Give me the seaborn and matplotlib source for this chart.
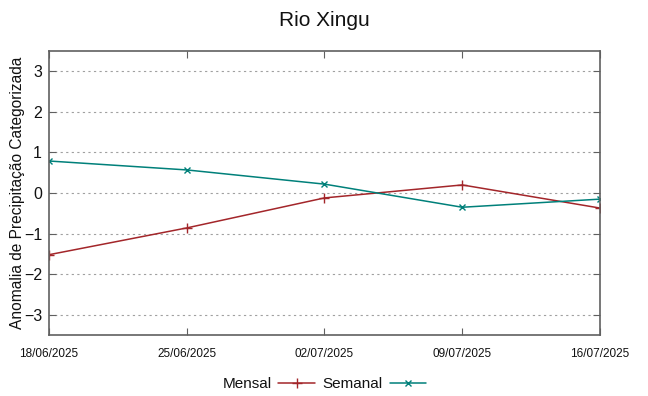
#!/usr/bin/env python3

import numpy as np
import pandas as pd
import seaborn as sns
import matplotlib
matplotlib.use('Agg')
import matplotlib.pyplot as plt
import matplotlib.dates as mdates

datas = ['2025-06-18', '2025-06-25', '2025-07-02', '2025-07-09', '2025-07-16']
mensal = [-1.52, -0.86, -0.12, 0.20, -0.37]
semanal = [0.79, 0.57, 0.22, -0.35, -0.15]
yticks = [-3, -2, -1, 0, 1, 2, 3]

df = pd.DataFrame({
    'data': pd.to_datetime(datas * 2),
    'valor': mensal + semanal,
    'serie': ['Mensal'] * len(datas) + ['Semanal'] * len(datas),
})

sns.set_style('white')
plt.rcParams['font.family'] = ['Liberation Sans', 'DejaVu Sans']
plt.rcParams['text.color'] = '#111111'
plt.rcParams['axes.labelcolor'] = '#111111'
plt.rcParams['xtick.color'] = '#111111'
plt.rcParams['ytick.color'] = '#111111'

fig = plt.figure(figsize=(6.48, 3.96), dpi=100)
ax = fig.add_axes([0.0756, 0.154, 0.8503, 0.717])

cores = {'Mensal': '#a3262a', 'Semanal': '#00807a'}
marcas = {'Mensal': '+', 'Semanal': 'x'}
tamanhos = {'Mensal': 7, 'Semanal': 5}
for nome in ['Mensal', 'Semanal']:
    sub = df[df['serie'] == nome]
    sns.lineplot(data=sub, x='data', y='valor', ax=ax, color=cores[nome],
                 marker=marcas[nome], markersize=tamanhos[nome], markeredgewidth=1,
                 markeredgecolor=cores[nome], linewidth=1.1, label=nome)

ax.set_xlim(pd.Timestamp(datas[0]), pd.Timestamp(datas[-1]))
ax.set_ylim(-3.5, 3.5)
ax.set_yticks(yticks)
ax.set_xticks(pd.to_datetime(datas))
ax.xaxis.set_major_formatter(mdates.DateFormatter('%d/%m/%Y'))
ax.tick_params(axis='y', labelsize=11.5, direction='in', length=5, right=True, left=True,
               pad=5, color='#606060')
ax.tick_params(axis='x', labelsize=8.5, direction='in', length=5, top=True, bottom=True,
               pad=9, color='#606060')
ax.yaxis.grid(True, linestyle=(0, (2, 3)), color='#a0a0a0', linewidth=0.8)
ax.xaxis.grid(False)
for s in ax.spines.values():
    s.set_color('#606060')
    s.set_linewidth(1.2)

ax.set_xlabel('')
ax.set_ylabel('Anomalia de Precipitação Categorizada', fontsize=11.2, labelpad=-1)
fig.suptitle('Rio Xingu', fontsize=15, y=0.972)

ax.legend(loc='upper center', bbox_to_anchor=(0.5, -0.1), ncol=2, frameon=False,
          markerfirst=False, fontsize=11, handlelength=2.4, columnspacing=0.5,
          handletextpad=0.45)

fig.savefig('out.png', dpi=100)
